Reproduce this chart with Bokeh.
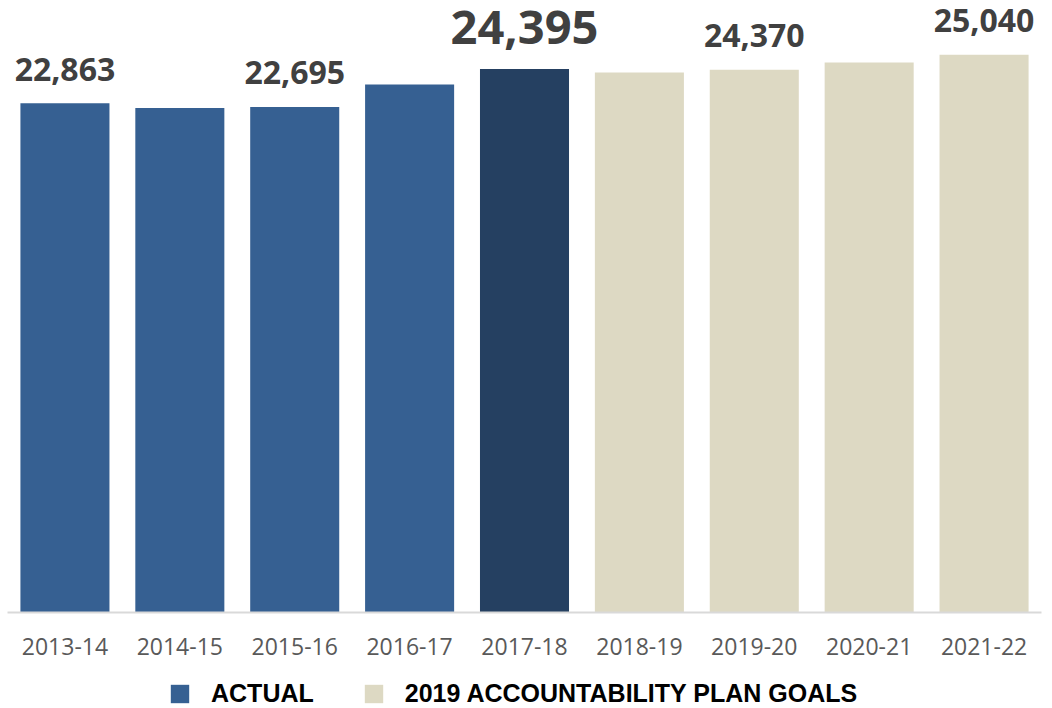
from bokeh.plotting import figure
from bokeh.layouts import column
from bokeh.models import ColumnDataSource, FactorRange, Range1d, Legend, LegendItem
from bokeh.core.properties import value
from bokeh.embed import file_html
from bokeh.resources import INLINE

years = ["2013-14", "2014-15", "2015-16", "2016-17", "2017-18",
         "2018-19", "2019-20", "2020-21", "2021-22"]
enrollment = [22863, 22650, 22695, 23700, 24395, 24240, 24370, 24690, 25040]
kind = ["actual", "actual", "actual", "actual", "current",
        "goal", "goal", "goal", "goal"]
labelled = [True, False, True, False, True, False, True, False, True]
legend_labels = ["ACTUAL", "2019 ACCOUNTABILITY PLAN GOALS"]

palette = {"actual": "#366092", "current": "#254061", "goal": "#DDD9C3"}
colors = [palette[k] for k in kind]

src = ColumnDataSource(dict(x=years, top=enrollment, color=colors))

lab_x = [y for y, l in zip(years, labelled) if l]
lab_y = [v for v, l in zip(enrollment, labelled) if l]
lab_t = [f"{v:,}" for v, l in zip(enrollment, labelled) if l]
lab_size = ["47px" if k == "current" else "32px" for k, l in zip(kind, labelled) if l]
lab_off = [-42 if k == "current" else -34 for k, l in zip(kind, labelled) if l]
lab_src = ColumnDataSource(dict(x=lab_x, y=lab_y, text=lab_t, size=lab_size, off=lab_off))

p = figure(x_range=FactorRange(factors=years, range_padding=0),
           y_range=Range1d(0, 27114),
           width=1044, height=672, output_backend="svg", toolbar_location=None,
           min_border_left=7, min_border_right=3, min_border_top=8, min_border_bottom=60)

r = p.vbar(x="x", top="top", width=0.775, fill_color="color", line_color=None, source=src)

p.text(x="x", y="y", text="text", source=lab_src, text_align="center",
       text_baseline="alphabetic", y_offset="off", text_font_size="size",
       text_font=value("Open Sans"), text_font_style="bold", text_color="#404040")

p.yaxis.visible = False
p.xgrid.grid_line_color = None
p.ygrid.grid_line_color = None
p.outline_line_color = None

ax = p.xaxis[0]
ax.axis_line_color = "#D9D9D9"
ax.axis_line_width = 2
ax.major_tick_line_color = None
ax.minor_tick_line_color = None
ax.major_tick_out = 0
ax.axis_label_standoff = 0
ax.major_label_text_font = "Open Sans"
ax.major_label_text_font_size = "23px"
ax.major_label_text_color = "#595959"
ax.major_label_standoff = 25

# legend strip below the chart (swatch renderers sit outside the visible range)
p2 = figure(x_range=Range1d(0, 1), y_range=Range1d(0, 1),
            width=1044, height=36, output_backend="svg", toolbar_location=None,
            min_border_left=0, min_border_right=0, min_border_top=0, min_border_bottom=0)
p2.axis.visible = False
p2.grid.grid_line_color = None
p2.outline_line_color = None
ra = p2.vbar(x=[-10], top=[-5], bottom=[-6], width=0.5, fill_color=palette["actual"], line_color=None)
rg = p2.vbar(x=[-10], top=[-5], bottom=[-6], width=0.5, fill_color=palette["goal"], line_color=None)

legend = Legend(items=[LegendItem(label=legend_labels[0], renderers=[ra], index=0),
                       LegendItem(label=legend_labels[1], renderers=[rg], index=0)],
                orientation="horizontal", location=(161, 0),
                glyph_width=23, glyph_height=23, label_standoff=20, spacing=48,
                label_text_font="Liberation Sans", label_text_font_style="bold",
                label_text_font_size="25px", label_text_color="#000000",
                border_line_color=None, background_fill_alpha=0,
                padding=0, margin=0)
p2.add_layout(legend, "center")

layout = column(p, p2, spacing=0)
open("out.html", "w").write(file_html(layout, INLINE))
